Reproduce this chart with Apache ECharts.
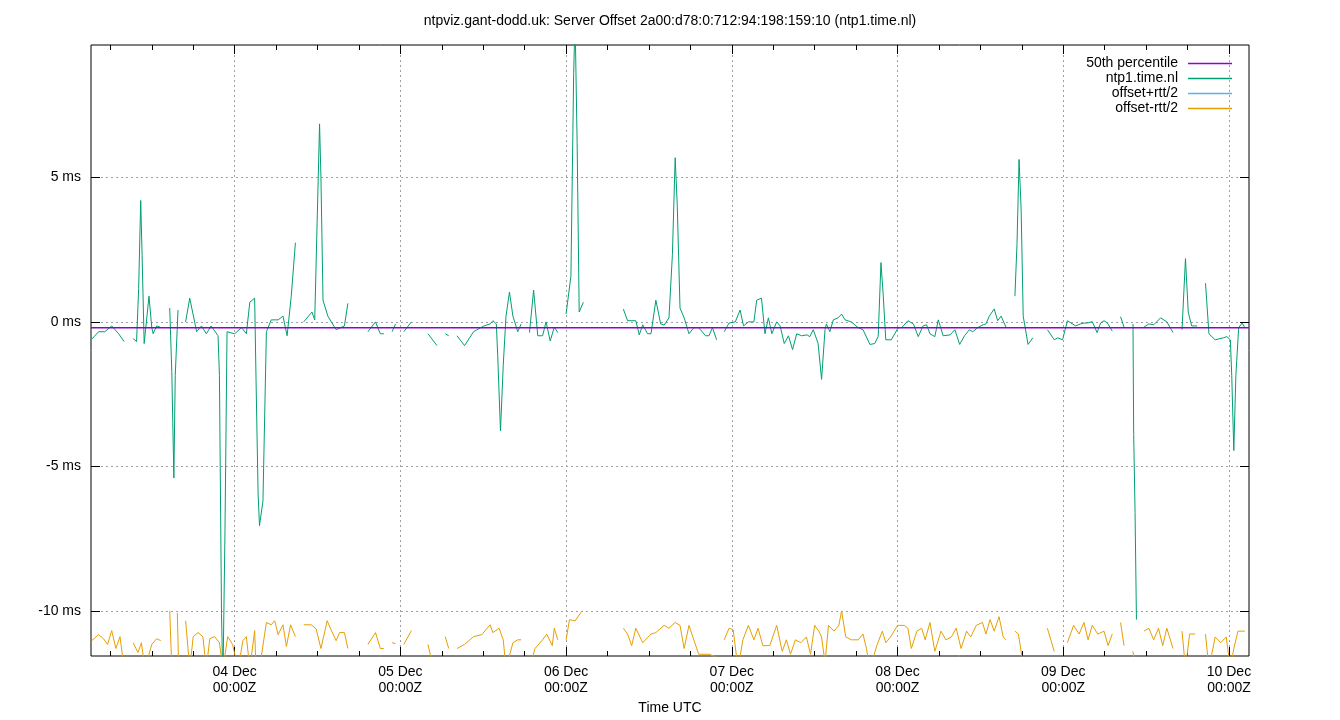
<!DOCTYPE html>
<html>
<head>
<meta charset="utf-8">
<script src="https://cdn.jsdelivr.net/npm/echarts@6/dist/echarts.min.js"></script>
<style>html,body{margin:0;background:#fff}#chart{width:1340px;height:720px}</style>
</head>
<body>
<div id="chart"></div>
<script>
// hours since 04 Dec 00:00Z, offset in ms; null = gap
var offsetPts = [
 [-20.7,-0.6],[-19.7,-0.34],[-18.8,-0.34],[-17.8,-0.14],[-16.8,-0.41],[-16.0,-0.68],[-15.3,null],
 [-14.7,-0.58],[-14.2,-0.68],[-13.9,1.16],[-13.6,4.2],[-13.4,2.3],[-13.1,-0.75],[-12.4,0.89],[-12.0,-0.2],[-11.8,-0.41],[-11.3,-0.14],[-10.8,-0.18],[-10.1,null],
 [-9.4,0.48],[-9.1,-1.71],[-8.8,-5.4],[-8.6,-1.86],[-8.2,0.41],[-7.6,null],
 [-7.1,0],[-6.5,0.82],[-5.5,-0.34],[-4.8,-0.14],[-4.1,-0.41],[-3.4,-0.14],[-2.4,-0.48],[-2.2,-1.85],[-1.9,-10.1],[-1.7,-12.5],[-1.4,-7.3],[-1.1,-0.34],
 [0,-0.41],[1.0,-0.2],[1.7,-0.41],[2.2,0.68],[2.9,0.82],[3.1,-2.0],[3.4,-5.95],[3.6,-7.05],[4.1,-6.2],[4.6,-0.34],[5.3,0.07],[6.3,0.07],[7.0,0.2],[7.6,-0.48],[8.2,0.89],[8.8,2.74],[9.4,null],
 [10.0,0],[11.2,0.34],[11.6,0.07],[12.3,6.85],[12.5,5.0],[12.8,0.75],[13.5,0.2],[14.7,-0.27],[15.9,-0.14],[16.4,0.64],[17.5,null],
 [19.3,-0.34],[20.4,0],[21.1,-0.41],[21.6,-0.41],[22.5,null],[22.8,-0.34],[23.3,-0.07],[24.2,null],[24.5,-0.34],[25.6,0],[26.2,null],
 [28.0,-0.41],[29.3,-0.82],[30.0,null],[30.5,-0.41],[31.0,-0.48],[31.6,null],
 [32.2,-0.48],[33.3,-0.82],[34.6,-0.34],[36.1,-0.14],[37.0,-0.07],[37.4,0.04],[37.9,-0.07],[38.1,-1.16],[38.5,-3.77],[38.9,-1.5],[39.3,0.2],[39.8,1.03],[40.3,0.2],[41.0,-0.34],[41.5,-0.07],[42.2,null],
 [42.7,-0.37],[43.3,1.1],[43.9,-0.48],[44.6,-0.48],[45.1,0],[45.7,-0.66],[46.3,-0.18],[46.8,-0.37],[47.4,null],
 [48.0,0.27],[48.7,1.58],[49.1,8.6],[49.3,10.5],[49.6,6.2],[49.9,0.34],[50.5,0.68],[51.0,null],
 [56.3,0.44],[56.9,0.04],[58.1,0.04],[58.6,-0.45],[59.1,-0.1],[59.8,-0.41],[60.3,-0.41],[61.0,0.75],[61.7,-0.07],[62.2,-0.11],[62.9,0.14],[63.4,2.33],[63.8,5.68],[64.1,4.04],[64.5,0.48],[65.1,0.14],[65.8,-0.41],[66.5,-0.2],[67.2,-0.2],[68.2,-0.48],[68.7,-0.48],[69.2,-0.2],[69.8,-0.62],[70.3,null],
 [70.9,-0.34],[71.6,-0.04],[72.5,0],[73.2,0.41],[73.7,-0.14],[74.4,0],[75.2,0],[75.6,0.75],[76.3,0.82],[76.8,-0.41],[77.3,0.14],[77.8,-0.41],[78.5,0],[79.0,-0.14],[79.6,-0.75],[80.2,-0.48],[80.8,-0.96],[81.4,-0.41],[82.1,-0.48],[82.9,-0.45],[83.3,-0.51],[83.8,-0.27],[84.5,-0.75],[85.0,-1.99],[85.5,-0.27],[85.7,-0.07],[86.2,-0.34],[86.7,0.07],[87.4,0.14],[87.9,0.27],[88.4,0.07],[89.3,0],[90.3,-0.2],[91.0,-0.27],[92.0,-0.78],[92.7,-0.75],[93.2,-0.5],
 [93.6,2.05],[93.9,1.03],[94.3,-0.62],[95.1,-0.62],[96.1,-0.2],[96.6,-0.2],[97.5,0.04],[98.3,-0.07],[99.0,-0.51],[99.7,-0.14],[100.2,-0.1],[100.7,-0.41],[101.4,-0.51],[101.9,0.07],[102.6,-0.48],[103.6,-0.45],[104.3,-0.27],[105.0,-0.78],[105.7,-0.48],[106.4,-0.27],[106.9,-0.34],[107.6,-0.2],[108.4,-0.1],[108.8,-0.07],[109.3,0.2],[110.0,0.45],[110.5,0.04],[111.0,0.2],[111.7,-0.18],[112.3,null],
 [113.0,0.89],[113.3,2.68],[113.6,5.62],[113.9,3.9],[114.2,0.2],[114.9,-0.78],[115.6,-0.55],[116.5,null],
 [117.7,-0.27],[118.7,-0.62],[119.2,-0.55],[119.9,-0.62],[120.6,0.04],[121.8,-0.14],[122.5,-0.07],[123.0,-0.04],[123.5,-0.04],[124.2,0.01],[124.9,-0.37],[125.4,-0.04],[125.9,0.04],[126.4,-0.04],[127.1,-0.32],[127.7,null],
 [128.3,0.18],[128.8,-0.18],[129.4,null],[130.1,-0.07],[130.2,-3.9],[130.4,-6.6],[130.6,-10.3],[131.1,null],
 [131.7,-0.18],[132.4,-0.07],[133.1,-0.1],[134.1,0.14],[135.0,0],[135.9,-0.37],[136.6,null],
 [137.2,-0.27],[137.7,2.19],[138.1,0.34],[138.6,-0.14],[139.4,-0.14],[140.0,null],
 [140.6,1.34],[141.1,-0.41],[142.0,-0.62],[143.2,-0.55],[143.7,-0.51],[144.2,-0.62],[144.4,-1.85],[144.7,-4.45],[145.0,-1.85],[145.4,-0.2],[145.9,-0.04],[146.3,-0.2]
];
var lowPts = [
 [-20.7,-11.03],[-19.7,-10.82],[-19.0,-10.96],[-18.4,-11.16],[-17.8,-10.68],[-17.2,-11.3],[-16.6,-10.89],[-16.0,-12],[-15.3,null],
 [-14.7,-11.1],[-14.0,-11.44],[-13.5,-11.1],[-13.0,-12],[-12.0,-11.16],[-11.3,-10.96],[-10.7,-11.03],[-10.1,null],
 [-9.4,-10.0],[-9.1,-12],[-8.6,null],[-8.3,-10.07],[-8.1,-12],[-7.6,null],
 [-7.1,-10.34],[-6.5,-12],[-6.0,-10.89],[-5.3,-10.75],[-4.6,-10.89],[-4.1,-12],[-3.6,-10.96],[-2.9,-10.89],[-2.2,-11.1],[-1.7,-12],[-1.0,-10.89],[-0.3,-11.16],[0.5,-12],[1.2,-11.03],[1.7,-10.89],[2.2,-12],[2.9,-10.68],[3.1,-12],[3.6,-12],[4.6,-10.4],[5.3,-10.48],[5.8,-10.34],[6.3,-10.82],[7.0,-10.48],[7.5,-11.23],[8.1,-10.48],[8.8,-10.89],[9.4,null],
 [10.0,-10.48],[11.1,-10.48],[11.8,-10.62],[12.5,-11.3],[13.4,-10.34],[13.9,-10.62],[14.7,-11.03],[15.2,-10.75],[15.9,-10.75],[16.4,-11.3],[17.5,null],
 [19.3,-11.16],[20.4,-10.75],[21.1,-11.3],[21.6,-11.3],[22.5,null],[22.8,-11.1],[23.3,-11.13],[24.2,null],[24.5,-11.16],[25.6,-10.68],[26.2,null],
 [28.0,-11.16],[28.8,-12],[30.0,null],[30.5,-10.89],[31.0,-11.3],[31.6,null],
 [32.2,-11.3],[33.3,-11.16],[34.6,-10.89],[35.8,-10.82],[37.0,-10.48],[37.4,-10.75],[38.3,-10.6],[38.9,-11.0],[39.3,-12],[40.3,-11.1],[41.0,-11.0],[41.5,-11.0],[42.2,null],
 [42.7,-12],[43.5,-11.3],[44.6,-11.0],[45.2,-10.8],[46.0,-11.2],[46.3,-10.6],[46.8,-11.0],[47.4,null],
 [48.0,-11.0],[48.5,-10.3],[49.3,-10.35],[50.3,-10.0],[51.0,null],
 [56.3,-10.6],[56.9,-10.8],[57.5,-11.2],[58.1,-10.6],[59.1,-11.1],[60.3,-10.8],[61.0,-10.75],[62.2,-10.5],[62.9,-10.6],[63.8,-10.4],[64.5,-10.5],[65.1,-11.3],[65.8,-10.5],[66.5,-11.0],[67.2,-11.5],[68.7,-11.5],[69.8,-11.6],[70.3,null],
 [70.9,-11.0],[71.6,-10.6],[72.2,-10.65],[72.9,-12],[73.6,-11.0],[74.4,-10.5],[75.2,-11.0],[75.8,-10.6],[76.5,-11.2],[77.5,-11.2],[78.5,-10.5],[79.3,-11.4],[79.9,-11.0],[80.5,-11.5],[81.2,-11.0],[82.0,-11.1],[82.8,-10.9],[83.4,-11.5],[84.0,-10.5],[84.6,-10.7],[85.0,-10.9],[85.5,-11.8],[86.0,-10.5],[86.8,-10.7],[87.5,-10.5],[87.9,-10.0],[88.5,-10.9],[89.3,-11.0],[90.3,-11.0],[91.0,-10.8],[91.5,-11.3],[92.0,-12],[93.0,-11.2],
 [93.8,-10.7],[94.3,-11.1],[95.0,-10.9],[96.0,-10.5],[97.0,-10.5],[97.5,-10.6],[98.0,-11.3],[98.8,-10.7],[99.5,-10.6],[100.0,-11.0],[100.7,-10.4],[101.4,-11.4],[102.3,-10.7],[103.0,-11.0],[103.8,-10.9],[104.5,-10.6],[105.2,-11.3],[106.0,-10.7],[106.6,-10.9],[107.4,-10.5],[108.3,-10.4],[108.8,-10.8],[109.4,-10.3],[110.0,-10.7],[110.7,-10.2],[111.3,-10.9],[111.7,-11.0],[112.3,null],
 [113.0,-10.7],[113.5,-10.8],[114.3,-12],[116.5,null],[117.7,-10.6],[118.7,-11.4],[119.5,null],
 [120.6,-11.1],[121.5,-10.5],[122.3,-10.8],[123.0,-10.4],[123.6,-11.0],[124.2,-10.5],[125.0,-10.8],[125.9,-10.7],[126.5,-11.2],[127.1,-10.8],[127.7,null],
 [128.3,-10.4],[128.8,-11.2],[129.4,null],[130.1,-11.4],[130.4,-12],[131.1,null],
 [131.7,-10.7],[132.4,-10.6],[133.1,-11.0],[133.8,-10.6],[134.4,-11.2],[135.0,-10.6],[135.9,-11.3],[136.6,null],
 [137.2,-10.7],[137.7,-12],[138.3,-10.8],[139.1,-10.8],[140.0,null],
 [140.6,-10.8],[141.1,-12],[142.0,-10.9],[142.8,-11.1],[143.6,-10.9],[144.2,-12],[144.7,-11.3],[145.3,-10.7],[146.3,-10.7]
];
var highPts = [];   // offset+rtt/2 is above the plotted range
var median = -0.2;
var xMin = -20.8, xMax = 146.9;
var yMin = -11.56, yMax = 9.58;
var dayTicks = [0, 24, 48, 72, 96, 120, 144];
var dayLabels = ['04 Dec', '05 Dec', '06 Dec', '07 Dec', '08 Dec', '09 Dec', '10 Dec'];
var minorTicks = [-18, -12, -6, 6, 12, 18, 30, 36, 42, 54, 60, 66, 78, 84, 90, 102, 108, 114, 126, 132, 138];
var yTicks = [-10, -5, 0, 5];

function fix(pts) {
    return pts.map(function (p) { return [p[0], p[1] === null ? '-' : p[1]]; });
}

var font = 'Liberation Sans, Arial, sans-serif';
var grid = '#a0a0a0';

function tickAxis(pos, values, len, extra) {
    var a = {
        type: 'value', min: xMin, max: xMax, position: pos,
        axisLine: { show: false, onZero: false },
        axisTick: { inside: true, length: len, lineStyle: { color: '#000' }, customValues: values },
        axisLabel: { show: false, customValues: values },
        splitLine: { show: false }
    };
    return Object.assign(a, extra || {});
}

var chart = echarts.init(document.getElementById('chart'));
chart.setOption({
    animation: false,
    title: {
        text: 'ntpviz.gant-dodd.uk: Server Offset 2a00:d78:0:712:94:198:159:10 (ntp1.time.nl)',
        left: 'center', top: 9,
        textStyle: { fontFamily: font, fontSize: 14, fontWeight: 'normal', color: '#000' }
    },
    legend: {
        orient: 'vertical', right: 103, top: 51, align: 'right',
        icon: 'rect', itemWidth: 44, itemHeight: 1.5, itemGap: 0,
        textStyle: { fontFamily: font, fontSize: 14, color: '#000', lineHeight: 15, padding: [0, 5, 0, 0] },
        data: ['50th percentile', 'ntp1.time.nl', 'offset+rtt/2', 'offset-rtt/2']
    },
    grid: { left: 91, right: 91, top: 45, bottom: 64, show: true, borderColor: '#000', borderWidth: 1 },
    xAxis: [
        tickAxis('bottom', dayTicks, 9, {
            name: 'Time UTC', nameLocation: 'middle', nameGap: 42,
            nameTextStyle: { fontFamily: font, fontSize: 14, color: '#000' },
            axisLabel: {
                customValues: dayTicks, fontFamily: font, fontSize: 14, color: '#000', lineHeight: 16,
                formatter: function (v) { return dayLabels[dayTicks.indexOf(v)] + '\n00:00Z'; }
            },
            splitLine: { show: true, lineStyle: { color: grid, type: [2, 3] } }
        }),
        tickAxis('bottom', minorTicks, 5),
        tickAxis('top', dayTicks, 9),
        tickAxis('top', minorTicks, 5)
    ],
    yAxis: [{
        type: 'value', min: yMin, max: yMax,
        axisLine: { show: false, onZero: false },
        axisTick: { inside: true, length: 9, lineStyle: { color: '#000' }, customValues: yTicks },
        axisLabel: {
            customValues: yTicks, fontFamily: font, fontSize: 14, color: '#000', margin: 10,
            formatter: function (v) { return v + ' ms'; }
        },
        splitLine: { show: true, lineStyle: { color: grid, type: [2, 3] } }
    }, {
        type: 'value', min: yMin, max: yMax, position: 'right',
        axisLine: { show: false, onZero: false },
        axisTick: { inside: true, length: 9, lineStyle: { color: '#000' }, customValues: yTicks },
        axisLabel: { show: false, customValues: yTicks },
        splitLine: { show: false }
    }],
    series: [
        { name: '50th percentile', type: 'line', symbol: 'none', color: '#9400d3', lineStyle: { width: 1.5 },
          data: [[xMin, median], [xMax, median]], z: 5 },
        { name: 'ntp1.time.nl', type: 'line', symbol: 'none', color: '#009e73', lineStyle: { width: 1 },
          connectNulls: false, data: fix(offsetPts), z: 4 },
        { name: 'offset+rtt/2', type: 'line', symbol: 'none', color: '#56b4e9', lineStyle: { width: 1 },
          data: fix(highPts) },
        { name: 'offset-rtt/2', type: 'line', symbol: 'none', color: '#e69f00', lineStyle: { width: 1 },
          connectNulls: false, data: fix(lowPts) }
    ]
});
</script>
</body>
</html>
